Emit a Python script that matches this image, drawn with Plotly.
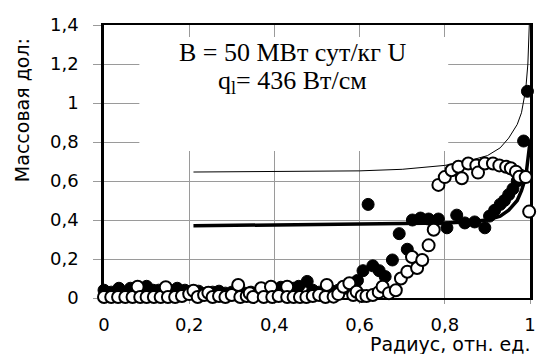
import plotly.graph_objects as go

# ---------------- data ----------------
filled_x = [0.0, 0.017, 0.035, 0.05, 0.062, 0.08, 0.1, 0.115, 0.128, 0.145, 0.16, 0.172,
            0.19, 0.205, 0.222, 0.24, 0.255, 0.27, 0.285, 0.3, 0.315, 0.33, 0.345, 0.36,
            0.375, 0.39, 0.405, 0.415, 0.43, 0.445, 0.457, 0.477, 0.49, 0.505, 0.52, 0.535,
            0.55, 0.565, 0.58, 0.595, 0.608, 0.62, 0.631, 0.646, 0.66, 0.677, 0.693, 0.712,
            0.724, 0.743, 0.762, 0.785, 0.805, 0.828, 0.847, 0.87, 0.894, 0.905, 0.917,
            0.93, 0.94, 0.95, 0.96, 0.97, 0.978, 0.985, 0.994]
filled_y = [0.04, 0.03, 0.05, 0.03, 0.05, 0.035, 0.06, 0.04, 0.04, 0.03, 0.035, 0.05,
            0.04, 0.03, 0.035, 0.025, 0.03, 0.035, 0.025, 0.03, 0.02, 0.025, 0.03, 0.025,
            0.03, 0.05, 0.035, 0.055, 0.04, 0.05, 0.06, 0.085, 0.04, 0.03, 0.04, 0.035,
            0.04, 0.05, 0.06, 0.09, 0.14, 0.48, 0.165, 0.14, 0.11, 0.195, 0.33, 0.25,
            0.40, 0.41, 0.405, 0.405, 0.36, 0.425, 0.385, 0.39, 0.36, 0.42, 0.45,
            0.48, 0.50, 0.53, 0.56, 0.60, 0.63, 0.805, 1.06]

open_x = [0.0, 0.017, 0.033, 0.05, 0.067, 0.079, 0.085, 0.1, 0.117, 0.133, 0.145, 0.15,
          0.167, 0.183, 0.2, 0.21, 0.22, 0.235, 0.245, 0.255, 0.27, 0.285, 0.3, 0.315,
          0.32, 0.335, 0.342, 0.35, 0.369, 0.375, 0.392, 0.395, 0.41, 0.43, 0.43, 0.445,
          0.46, 0.475, 0.49, 0.505, 0.523, 0.52, 0.539, 0.55, 0.562, 0.576, 0.585, 0.593,
          0.605, 0.616, 0.631, 0.645, 0.654, 0.669, 0.685, 0.697, 0.712, 0.723, 0.735,
          0.747, 0.762, 0.774, 0.785, 0.80, 0.816, 0.832, 0.84, 0.855, 0.874, 0.878,
          0.894, 0.913, 0.928, 0.944, 0.955, 0.967, 0.975, 0.99, 0.998]
open_y = [0.005, 0.005, 0.005, 0.005, 0.005, 0.058, 0.005, 0.005, 0.005, 0.005, 0.055, 0.005,
          0.005, 0.01, 0.02, 0.037, 0.005, 0.015, 0.027, 0.005, 0.01, 0.005, 0.015, 0.067,
          0.005, 0.01, 0.024, 0.005, 0.05, 0.005, 0.058, 0.005, 0.01, 0.058, 0.005, 0.005,
          0.005, 0.005, 0.01, 0.015, 0.067, 0.005, 0.007, 0.02, 0.058, 0.076, 0.015, 0.032,
          0.01, 0.01, 0.015, 0.03, 0.058, 0.025, 0.04, 0.10, 0.135, 0.21, 0.154,
          0.195, 0.27, 0.35, 0.58, 0.62, 0.655, 0.673, 0.614, 0.69, 0.68, 0.643,
          0.69, 0.69, 0.68, 0.673, 0.665, 0.648, 0.622, 0.62, 0.443]

thin_x = [0.21, 0.4, 0.6, 0.7, 0.8, 0.85, 0.9, 0.93, 0.95, 0.97, 0.98, 0.99, 0.995, 1.0]
thin_y = [0.646, 0.648, 0.652, 0.66, 0.68, 0.70, 0.73, 0.77, 0.82, 0.89, 0.95, 1.07, 1.2, 1.5]

thick_x = [0.21, 0.3, 0.4, 0.5, 0.6, 0.7, 0.8, 0.85, 0.9, 0.93, 0.95, 0.97, 0.98, 0.99, 0.995, 1.0]
thick_y = [0.37, 0.372, 0.374, 0.376, 0.378, 0.38, 0.385, 0.39, 0.40, 0.42, 0.45, 0.5, 0.55, 0.62, 0.7, 0.8]

x_ticks = [0, 0.2, 0.4, 0.6, 0.8, 1]
x_labels = ["0", "0,2", "0,4", "0,6", "0,8", "1"]
y_ticks = [0, 0.2, 0.4, 0.6, 0.8, 1, 1.2, 1.4]
y_labels = ["0", "0,2", "0,4", "0,6", "0,8", "1", "1,2", "1,4"]

# ---------------- figure ----------------
fig = go.Figure()
fig.add_trace(go.Scatter(x=thin_x, y=thin_y, mode="lines",
                         line=dict(color="black", width=1), showlegend=False))
fig.add_trace(go.Scatter(x=thick_x, y=thick_y, mode="lines",
                         line=dict(color="black", width=3.5), showlegend=False))
fig.add_trace(go.Scatter(x=filled_x, y=filled_y, mode="markers", cliponaxis=False,
                         marker=dict(symbol="circle", size=12, color="black",
                                     line=dict(color="black", width=1)),
                         showlegend=False))
fig.add_trace(go.Scatter(x=open_x, y=open_y, mode="markers", cliponaxis=False,
                         marker=dict(symbol="circle", size=12, color="white",
                                     line=dict(color="black", width=2)),
                         showlegend=False))

tickfont = dict(family="DejaVu Sans", size=18, color="black")

fig.update_xaxes(range=[0, 1], tickvals=x_ticks, ticktext=x_labels,
                 showgrid=True, gridcolor="#9a9a9a", gridwidth=1,
                 showline=True, linecolor="black", linewidth=2, mirror=True,
                 ticks="outside", ticklen=4, tickcolor="#9a9a9a",
                 ticklabelstandoff=5, zeroline=False, tickfont=tickfont,
                 layer="below traces")
fig.update_yaxes(range=[0, 1.4], tickvals=y_ticks, ticktext=y_labels,
                 showgrid=True, gridcolor="#9a9a9a", gridwidth=1,
                 showline=True, linecolor="black", linewidth=2.5, mirror=True,
                 ticks="outside", ticklen=8, tickcolor="#9a9a9a",
                 ticklabelstandoff=11, zeroline=False, tickfont=tickfont,
                 layer="below traces")

# white box behind the annotation text (hides gridlines)
fig.add_shape(type="rect", xref="x", yref="y", x0=0.083, x1=0.808, y0=0.754, y1=1.338,
              fillcolor="white", line=dict(width=0), layer="between")

serif = dict(family="Liberation Serif, Times New Roman, serif", size=26, color="black")
fig.add_annotation(xref="paper", yref="paper", x=(295 - 104) / 432, y=(298 - 53) / 273,
                   text="В = 50 МВт сут/кг U", showarrow=False, font=serif,
                   xanchor="center", yanchor="middle")
fig.add_annotation(xref="paper", yref="paper", x=(295 - 104) / 432, y=(298 - 82) / 273,
                   text="q<sub>l</sub>= 436 Вт/см", showarrow=False, font=serif,
                   xanchor="center", yanchor="middle")

fig.add_annotation(xref="paper", yref="paper", x=(538 - 104) / 432, y=(298 - 344) / 273,
                   text="Радиус, отн. ед.", showarrow=False,
                   font=dict(family="DejaVu Sans", size=19, color="black"),
                   xanchor="right", yanchor="middle")
fig.add_annotation(xref="paper", yref="paper", x=(21 - 104) / 432, y=(298 - 110) / 273,
                   text="Массовая дол:", showarrow=False, textangle=-90,
                   font=dict(family="DejaVu Sans", size=19, color="black"),
                   xanchor="center", yanchor="middle")

fig.update_layout(width=543, height=354,
                  margin=dict(l=104, r=7, t=25, b=56),
                  paper_bgcolor="white", plot_bgcolor="white")

fig.write_html("out.html")
